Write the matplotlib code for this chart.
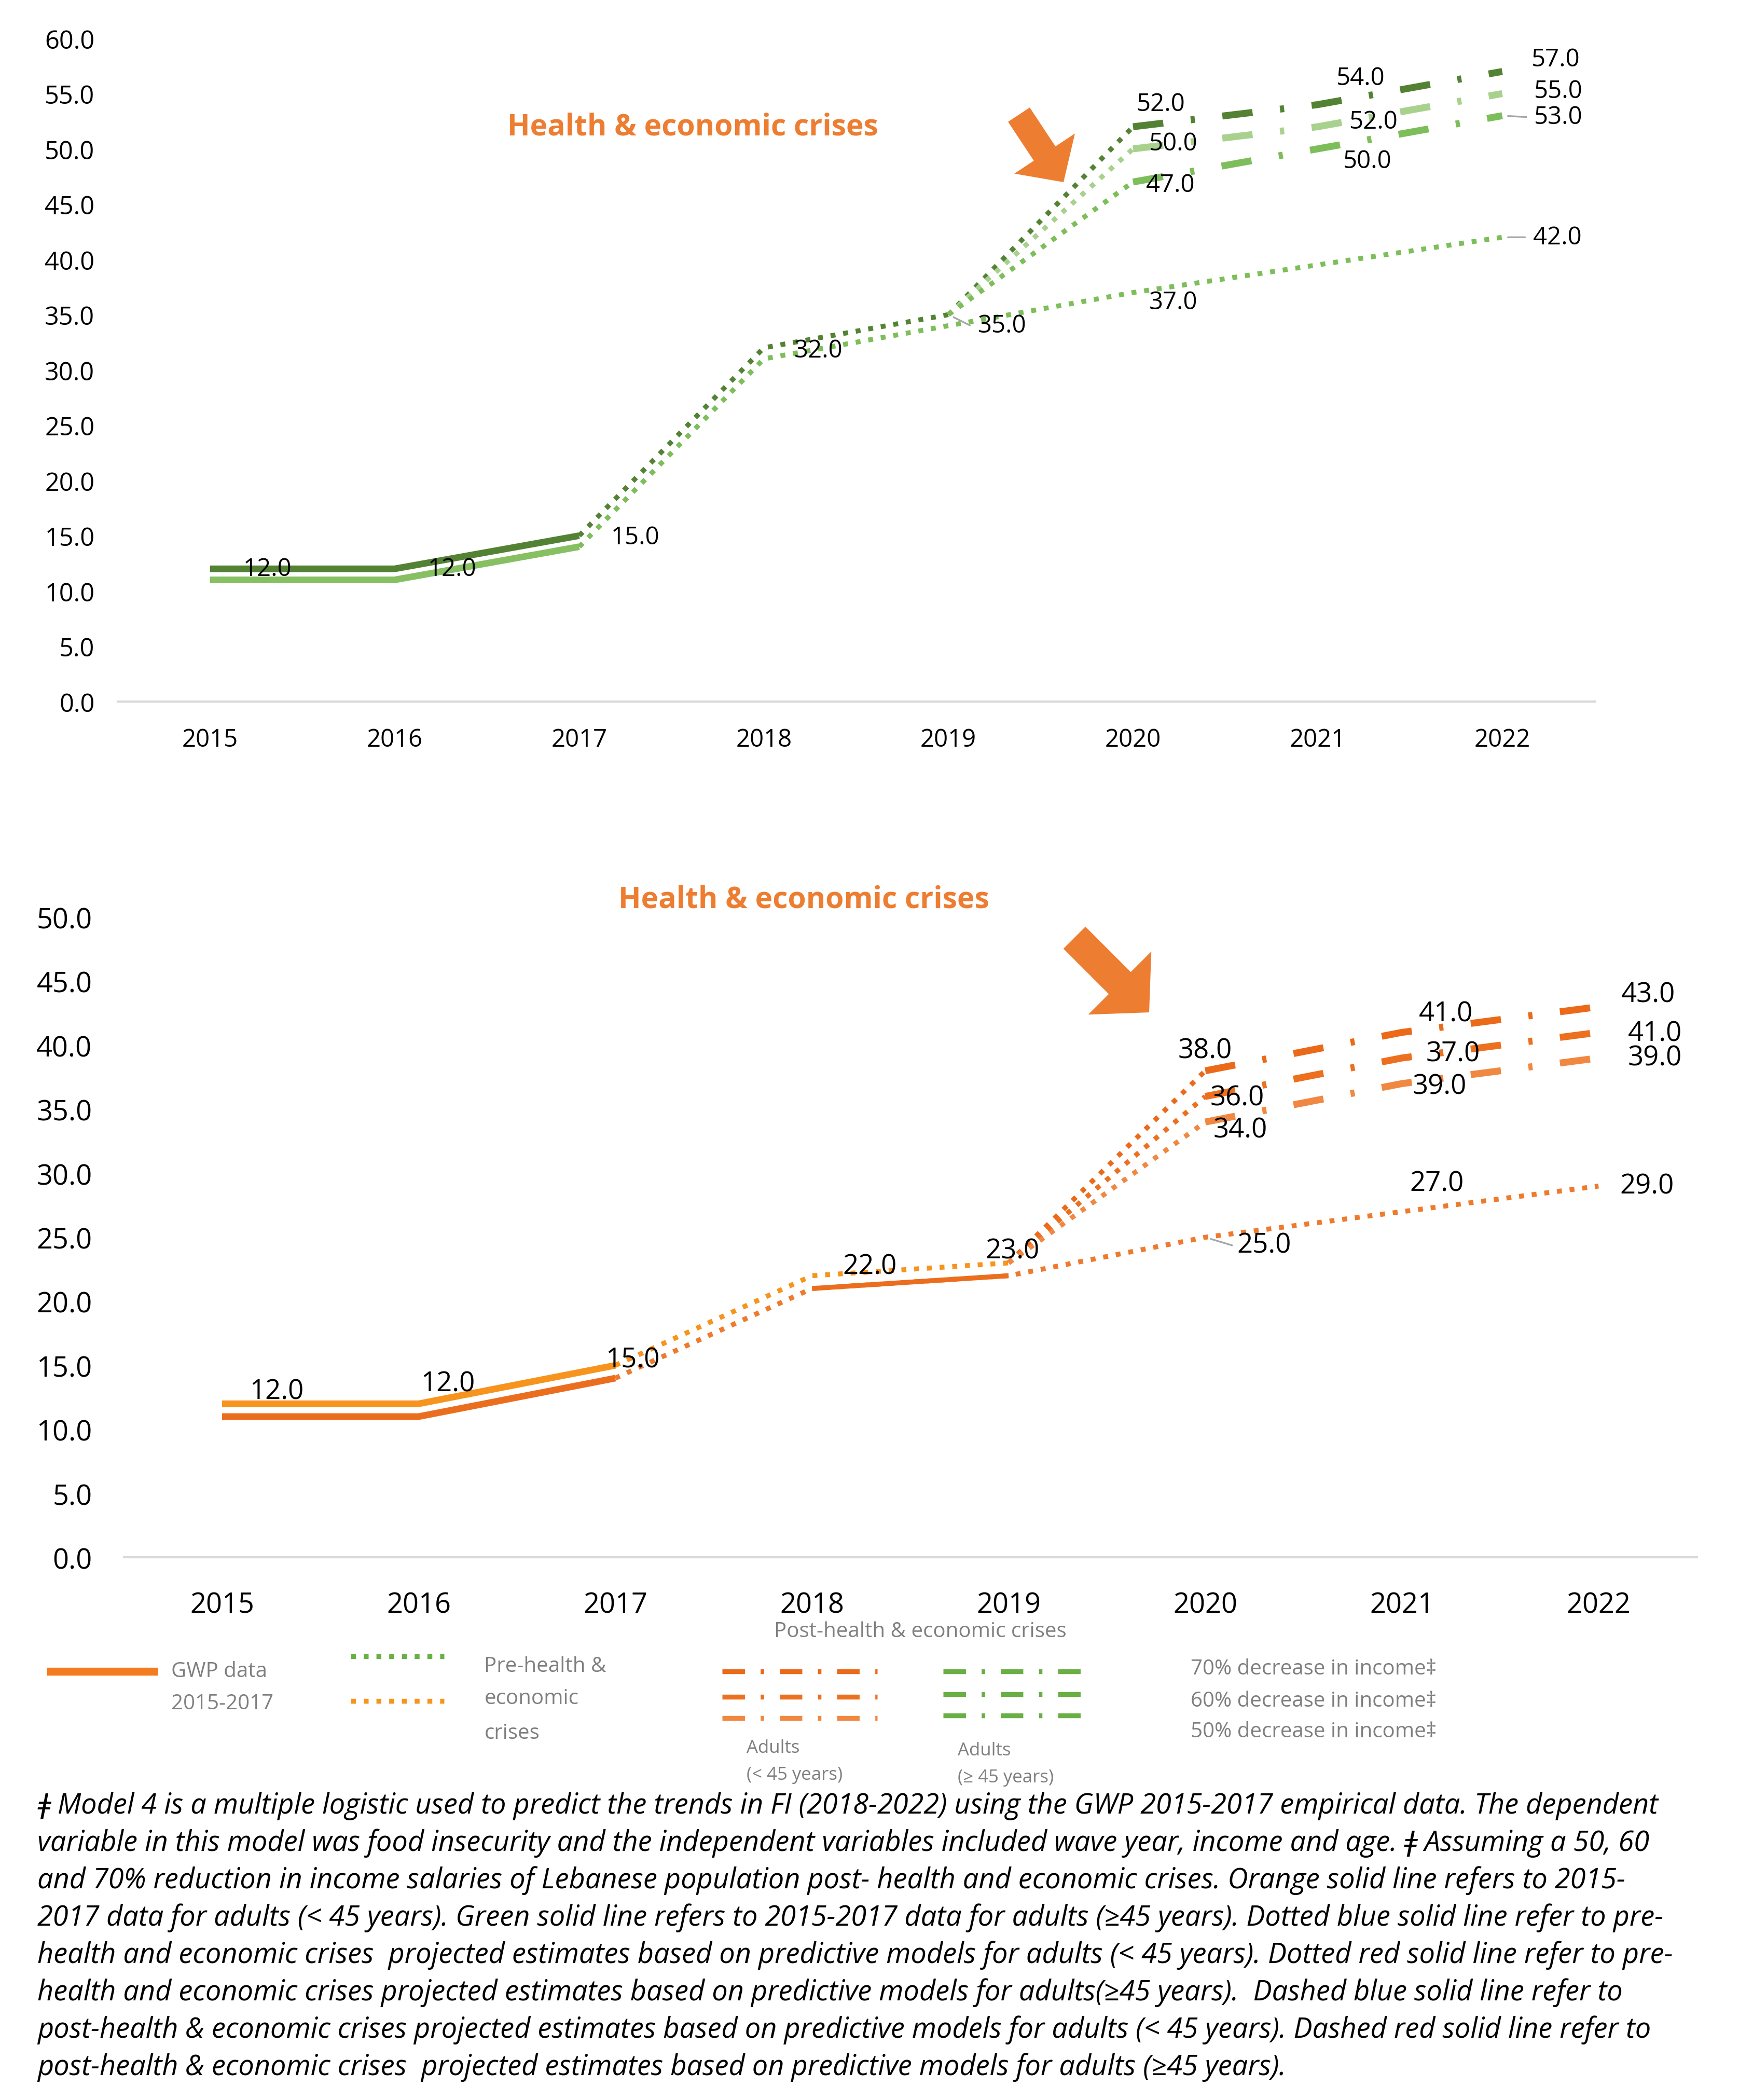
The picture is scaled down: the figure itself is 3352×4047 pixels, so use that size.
import matplotlib
matplotlib.use("Agg")
import matplotlib.pyplot as plt
from matplotlib.lines import Line2D
from matplotlib.patches import Polygon
import numpy as np

plt.rcParams['font.family'] = ['Open Sans', 'DejaVu Sans']

# ---------------- data ----------------
years = ["2015", "2016", "2017", "2018", "2019", "2020", "2021", "2022"]

# top chart (green)
top_gwp_a = [12, 12, 15]            # 2015-2017
top_gwp_b = [11, 11, 14]            # 2015-2017
top_pre_a = [15, 32, 35]            # 2017-2019
top_pre_b = [14, 31, 34, 37, 39.5, 42]  # 2017-2022
top_post_70 = [35, 52, 54, 57]      # 2019-2022
top_post_60 = [35, 50, 52, 55]
top_post_50 = [35, 47, 50, 53]
top_ticks = [0, 5, 10, 15, 20, 25, 30, 35, 40, 45, 50, 55, 60]

# bottom chart (orange)
bot_gwp_a = [12, 12, 15]
bot_gwp_b = [11, 11, 14]
bot_pre_a = [15, 22, 23]            # 2017-2019
bot_pre_b = [14, 21, 22, 25, 27, 29]  # 2017-2022
bot_post_70 = [23, 38, 41, 43]      # 2019-2022
bot_post_60 = [23, 36, 39, 41]
bot_post_50 = [23, 34, 37, 39]
bot_ticks = [0, 5, 10, 15, 20, 25, 30, 35, 40, 45, 50]
bot_label_2021 = ["41.0", "37.0", "39.0"]   # label texts as printed at 2021 (70/60/50)

footnote = [
    "ǂ Model 4 is a multiple logistic used to predict the trends in FI (2018-2022) using the GWP 2015-2017 empirical data. The dependent",
    "variable in this model was food insecurity and the independent variables included wave year, income and age. ǂ Assuming a 50, 60",
    "and 70% reduction in income salaries of Lebanese population post- health and economic crises. Orange solid line refers to 2015-",
    "2017 data for adults (< 45 years). Green solid line refers to 2015-2017 data for adults (≥45 years). Dotted blue solid line refer to pre-",
    "health and economic crises  projected estimates based on predictive models for adults (< 45 years). Dotted red solid line refer to pre-",
    "health and economic crises projected estimates based on predictive models for adults(≥45 years).  Dashed blue solid line refer to",
    "post-health & economic crises projected estimates based on predictive models for adults (< 45 years). Dashed red solid line refer to",
    "post-health & economic crises  projected estimates based on predictive models for adults (≥45 years).",
]

# ---------------- styles ----------------
G_DARK = "#548235"
G_PALE = "#A9D18E"
G_MID = "#7DBE5B"
G_GWP_L = "#86C062"
O_LIGHT = "#F7941D"
O_DARK = "#EB6E1E"
O_70 = "#EA6A1A"
O_60 = "#EC701F"
O_50 = "#F08841"
ARROW = "#ED7D31"
GRAY = "#7F7F7F"

LW_SOLID = 4.6
LW_DOT = 3.4
LW_DASH = 4.8
DOT = (0, (1.0, 1.6))
DASHDOT = (0, (4.4, 4.0, 0.6, 4.0))

W, H = 3352, 4048
DPI = 200
fig = plt.figure(figsize=(W / DPI, H / DPI), dpi=DPI)

def fx(xd):
    return xd / 1300.0

def fy(yd):
    return 1 - yd / 1568.0

PT = 0.929  # displayed px -> points

def line(ax, xs, ys, color, lw, ls, cap="butt"):
    ax.plot(xs, ys, color=color, lw=lw, linestyle=ls, solid_capstyle=cap,
            dash_capstyle="butt", zorder=3)

def label(ax, xi, v, dx, dy, size, text=None, leader=False):
    t = text if text is not None else f"{v:.1f}"
    ax.annotate(t, (xi, v), xytext=(dx * PT, -dy * PT), textcoords="offset points",
                ha="center", va="center", fontsize=size, color="black", zorder=5)
    if leader:
        ax.annotate("", (xi, v), xytext=((dx - 24) * PT, -dy * PT),
                    textcoords="offset points",
                    arrowprops=dict(arrowstyle="-", color="#A6A6A6", lw=1.2,
                                    shrinkA=0, shrinkB=4), zorder=4)

def style_axes(ax, ticks, ylim, ysize, xsize, ypad, xpad):
    ax.set_xlim(-0.5, 7.5)
    ax.set_ylim(*ylim)
    ax.set_xticks(range(8))
    ax.set_xticklabels(years, fontsize=xsize)
    ax.set_yticks(ticks)
    ax.set_yticklabels([f"{t:.1f}" for t in ticks], fontsize=ysize)
    for s in ["top", "right", "left"]:
        ax.spines[s].set_visible(False)
    ax.spines["bottom"].set_color("#D9D9D9")
    ax.spines["bottom"].set_linewidth(1.5)
    ax.tick_params(axis="both", length=0, colors="black")
    ax.tick_params(axis="y", pad=ypad)
    ax.tick_params(axis="x", pad=xpad)

# ---------------- top chart ----------------
ax1 = fig.add_axes([fx(88), fy(524), fx(1192) - fx(88), fy(29) - fy(524)])
style_axes(ax1, top_ticks, (0, 60), 17.5, 17, 16, 18)
x = np.arange(8)
line(ax1, x[0:3], top_gwp_a, G_DARK, LW_SOLID, "-")
line(ax1, x[0:3], top_gwp_b, G_GWP_L, LW_SOLID, "-")
line(ax1, x[2:5], top_pre_a, G_DARK, LW_DOT, DOT)
line(ax1, x[2:8], top_pre_b, G_MID, LW_DOT, DOT)
for vals, col in [(top_post_70, G_DARK), (top_post_60, G_PALE), (top_post_50, G_MID)]:
    line(ax1, x[4:6], vals[0:2], col, LW_DOT, DOT)
    line(ax1, x[5:8], vals[1:4], col, LW_DASH, DASHDOT)

S1 = 17
label(ax1, 0, top_gwp_a[0], 43, 0, S1)
label(ax1, 1, top_gwp_a[1], 43, 0, S1)
label(ax1, 2, top_gwp_a[2], 42, 1, S1)
label(ax1, 3, top_pre_a[1], 41, 2, S1)
label(ax1, 4, top_pre_a[2], 40, 8, S1, leader=True)
label(ax1, 5, top_pre_b[3], 30, 7, S1)
label(ax1, 7, top_pre_b[5], 41, 0, S1, leader=True)
label(ax1, 5, top_post_70[1], 21, -17, S1)
label(ax1, 5, top_post_60[1], 30, -4, S1)
label(ax1, 5, top_post_50[1], 28, 2, S1)
label(ax1, 6, top_post_70[2], 32, -20, S1)
label(ax1, 6, top_post_60[2], 42, -4, S1)
label(ax1, 6, top_post_50[2], 37, 9, S1)
label(ax1, 7, top_post_70[3], 40, -9, S1)
label(ax1, 7, top_post_60[3], 42, -2, S1)
label(ax1, 7, top_post_50[3], 42, 1, S1, leader=True)

fig.text(fx(518), fy(95), "Health & economic crises", ha="center", va="center",
         fontsize=20.5, fontweight="bold", color=ARROW)

# ---------------- bottom chart ----------------
ax2 = fig.add_axes([fx(92.5), fy(1163), fx(1268.5) - fx(92.5), fy(685) - fy(1163)])
style_axes(ax2, bot_ticks, (0, 50), 19.5, 19.5, 22, 23)
line(ax2, x[0:3], bot_gwp_a, O_LIGHT, LW_SOLID, "-")
line(ax2, x[0:3], bot_gwp_b, O_DARK, LW_SOLID, "-")
line(ax2, x[2:5], bot_pre_a, O_LIGHT, LW_DOT, DOT)
line(ax2, x[2:8], bot_pre_b, "#EE7A2E", LW_DOT, DOT)
line(ax2, x[3:5], bot_pre_b[1:3], O_DARK, LW_DOT, "-")
for vals, col in [(bot_post_70, O_70), (bot_post_60, O_60), (bot_post_50, O_50)]:
    line(ax2, x[4:6], vals[0:2], col, LW_DOT, DOT)
    line(ax2, x[5:8], vals[1:4], col, LW_DASH, DASHDOT)

S2 = 19
label(ax2, 0, bot_gwp_a[0], 41, -9, S2)
label(ax2, 1, bot_gwp_a[1], 22, -15, S2)
label(ax2, 2, bot_gwp_a[2], 13, -4, S2)
label(ax2, 3, bot_pre_a[1], 43, -7, S2)
label(ax2, 4, bot_pre_a[2], 3, -9, S2)
label(ax2, 5, bot_post_70[1], 0, -15, S2)
label(ax2, 5, bot_post_60[1], 24, 1, S2)
label(ax2, 5, bot_post_50[1], 26, 6, S2)
label(ax2, 5, bot_pre_b[3], 44, 6, S2, leader=True)
label(ax2, 6, bot_post_70[2], 33, -14, S2, text=bot_label_2021[0])
label(ax2, 6, bot_post_60[2], 38, -3, S2, text=bot_label_2021[1])
label(ax2, 6, bot_post_50[2], 28, 2, S2, text=bot_label_2021[2])
label(ax2, 6, bot_pre_b[4], 26, -21, S2)
label(ax2, 7, bot_post_70[3], 37, -9, S2)
label(ax2, 7, bot_post_60[3], 42, 1, S2)
label(ax2, 7, bot_post_50[3], 42, 0, S2)
label(ax2, 7, bot_pre_b[5], 36, 0, S2)

fig.text(fx(601), fy(672), "Health & economic crises", ha="center", va="center",
         fontsize=20.5, fontweight="bold", color=ARROW)

# ---------------- arrows (block arrows) ----------------
def block_arrow(tail, tip, shaft_w, head_w, head_len):
    # coordinates in full-resolution pixels (y down)
    tail = np.array(tail, float)
    tip = np.array(tip, float)
    d = tip - tail
    L = np.linalg.norm(d)
    u = d / L
    n = np.array([-u[1], u[0]])
    base = tip - u * head_len
    pts = [tail + n * shaft_w / 2, base + n * shaft_w / 2, base + n * head_w / 2, tip,
           base - n * head_w / 2, base - n * shaft_w / 2, tail - n * shaft_w / 2]
    pts = [(p[0] / W, 1 - p[1] / H) for p in pts]
    fig.add_artist(Polygon(pts, closed=True, transform=fig.transFigure,
                           facecolor=ARROW, edgecolor="none", zorder=6))

block_arrow((1964, 222), (2050, 352), 50, 140, 66)
block_arrow((2071, 1808), (2215, 1952), 60, 172, 80)

# ---------------- legend ----------------
def fline(x1, x2, yd, color, lw, ls, cap="butt"):
    fig.add_artist(Line2D([fx(x1), fx(x2)], [fy(yd), fy(yd)], transform=fig.transFigure,
                          color=color, lw=lw, linestyle=ls, solid_capstyle=cap,
                          dash_capstyle="butt"))

LEG = 14.5
fig.text(fx(688), fy(1218), "Post-health & economic crises", ha="center", va="center",
         fontsize=LEG, color=GRAY)
fline(35, 118, 1248, "#F47B20", 5.5, "-")
fig.text(fx(128), fy(1248), "GWP data", ha="left", va="center", fontsize=LEG, color=GRAY)
fig.text(fx(128), fy(1272), "2015-2017", ha="left", va="center", fontsize=LEG, color=GRAY)
fline(262, 332, 1237, "#6AAF45", LW_DOT, DOT)
fline(262, 332, 1270, O_LIGHT, LW_DOT, DOT)
fig.text(fx(362), fy(1244), "Pre-health &", ha="left", va="center", fontsize=LEG, color=GRAY)
fig.text(fx(362), fy(1268), "economic", ha="left", va="center", fontsize=LEG, color=GRAY)
fig.text(fx(362), fy(1294), "crises", ha="left", va="center", fontsize=LEG, color=GRAY)
for yd, col in [(1248, O_70), (1267, O_60), (1283, O_50)]:
    fline(540, 656, yd, col, 3.4, (0, (4.6, 3.2, 0.7, 3.2)))
for yd, col in [(1248, "#6AAF45"), (1265, "#6AAF45"), (1281, "#6AAF45")]:
    fline(705, 815, yd, col, 3.4, (0, (4.6, 3.2, 0.7, 3.2)))
SM = 12.5
fig.text(fx(558), fy(1305), "Adults", ha="left", va="center", fontsize=SM, color=GRAY)
fig.text(fx(558), fy(1325), "(< 45 years)", ha="left", va="center", fontsize=SM, color=GRAY)
fig.text(fx(716), fy(1307), "Adults", ha="left", va="center", fontsize=SM, color=GRAY)
fig.text(fx(716), fy(1327), "(≥ 45 years)", ha="left", va="center", fontsize=SM, color=GRAY)
for yd, pct in [(1246, "70%"), (1270, "60%"), (1293, "50%")]:
    fig.text(fx(890), fy(yd), f"{pct} decrease in income‡", ha="left", va="center",
             fontsize=LEG, color=GRAY)

# ---------------- footnote ----------------
for i, t in enumerate(footnote):
    fig.text(fx(28), fy(1348 + 27.9 * i), t, ha="left", va="center", fontsize=19.5,
             style="italic", color="black")

fig.savefig("out.png", dpi=DPI, facecolor="white")
